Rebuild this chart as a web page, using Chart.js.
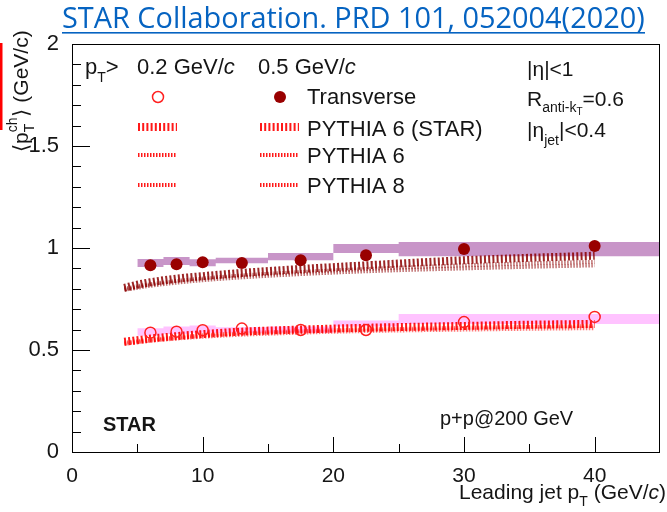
<!DOCTYPE html>
<html>
<head>
<meta charset="utf-8">
<script src="https://cdn.jsdelivr.net/npm/chart.js@4.4.1/dist/chart.umd.min.js"></script>
<style>
  html, body { margin: 0; padding: 0; background: #fff; }
  #wrap { width: 667px; height: 512px; }
</style>
</head>
<body>
<div id="wrap"><canvas id="chart" width="667" height="512"></canvas></div>
<script>
// Axis ticks
const xTickVals = [0, 10, 20, 30, 40];
const yTickVals = [0, 0.5, 1, 1.5, 2];

// Measured points (Transverse region)
const jetPt = [6, 8, 10, 13, 17.5, 22.5, 30, 40];
const trans05 = [0.915, 0.92, 0.93, 0.927, 0.94, 0.965, 0.995, 1.01];
const trans02 = [0.585, 0.59, 0.597, 0.605, 0.598, 0.598, 0.637, 0.662];

// Systematic boxes, one per bin (left edges + last right edge)
const binEdges = [5, 7, 9, 11, 15, 20, 25, 35, 45];
const sys05Low = [0.897, 0.907, 0.917, 0.91, 0.925, 0.94, 0.975, 0.96];
const sys05High = [0.936, 0.946, 0.956, 0.945, 0.952, 0.975, 1.02, 1.03];
const sys02Low = [0.565, 0.57, 0.578, 0.585, 0.585, 0.585, 0.615, 0.627];
const sys02High = [0.603, 0.607, 0.615, 0.62, 0.612, 0.615, 0.645, 0.676];

// PYTHIA curves
const pythiaPt = [4, 5, 6, 8, 10, 13, 17.5, 22.5, 30, 35, 40];
const p6star05 = [0.805, 0.82, 0.832, 0.85, 0.862, 0.878, 0.897, 0.915, 0.94, 0.952, 0.962];
const p6_05 = [0.8, 0.812, 0.822, 0.838, 0.85, 0.865, 0.882, 0.897, 0.915, 0.925, 0.932];
const p8_05 = [0.795, 0.805, 0.815, 0.83, 0.842, 0.856, 0.872, 0.886, 0.9, 0.908, 0.915];
const p6star02 = [0.54, 0.548, 0.556, 0.568, 0.578, 0.59, 0.6, 0.609, 0.618, 0.624, 0.628];
const p6_02 = [0.535, 0.543, 0.55, 0.562, 0.572, 0.582, 0.592, 0.6, 0.608, 0.613, 0.617];
const p8_02 = [0.53, 0.538, 0.545, 0.556, 0.565, 0.575, 0.585, 0.593, 0.6, 0.604, 0.607];

const DARK = 'rgba(140,0,0,0.85)';
const DARK_THIN = 'rgba(150,20,20,0.6)';
const RED = 'rgba(255,0,0,0.9)';
const RED_THIN = 'rgba(255,30,30,0.6)';
const PURPLE = 'rgba(190,130,190,0.85)';
const PINK = 'rgba(255,185,255,0.85)';
const INK = '#151515';

function pts(xs, ys) { return xs.map((x, i) => ({ x: x, y: ys[i] })); }
function steps(vals) {
  const p = vals.map((v, i) => ({ x: binEdges[i], y: v }));
  p.push({ x: binEdges[binEdges.length - 1], y: vals[vals.length - 1] });
  return p;
}

function curve(ys, color, width, dash) {
  return {
    data: pts(pythiaPt, ys), showLine: true, pointRadius: 0,
    borderColor: color, borderWidth: width, borderDash: dash,
    borderCapStyle: 'butt', cubicInterpolationMode: 'monotone',
    fill: false, order: 1
  };
}
function box(vals, color, isLow) {
  return {
    data: steps(vals), showLine: true, stepped: 'after', pointRadius: 0,
    borderWidth: 0, borderColor: 'rgba(0,0,0,0)', backgroundColor: color,
    fill: isLow ? '-1' : false, order: 2
  };
}

// rich text: parts = [[text, size, dy, style]]
function rich(ctx, x, y, parts) {
  parts.forEach(p => {
    ctx.font = (p[3] || '') + ' ' + p[1] + 'px "Liberation Sans", Arial, sans-serif';
    ctx.fillText(p[0], x, y + (p[2] || 0));
    x += ctx.measureText(p[0]).width;
  });
  return x;
}

function sample(ctx, x0, x1, y, color, width, dash) {
  ctx.save();
  ctx.strokeStyle = color; ctx.lineWidth = width; ctx.setLineDash(dash);
  ctx.beginPath(); ctx.moveTo(x0, y); ctx.lineTo(x1, y); ctx.stroke();
  ctx.restore();
}

const decor = {
  id: 'decor',
  afterDraw(chart) {
    const ctx = chart.ctx, a = chart.chartArea;
    const xs = chart.scales.x, ys = chart.scales.y;
    ctx.save();
    // frame
    ctx.strokeStyle = '#000'; ctx.lineWidth = 1;
    ctx.strokeRect(a.left + 0.5, a.top + 0.5, a.right - a.left - 1, a.bottom - a.top);
    // inward ticks
    ctx.beginPath();
    for (let k = 1; k < 20; k++) {
      const v = k / 10, py = Math.round(ys.getPixelForValue(v)) + 0.5;
      const len = (k % 5 === 0) ? 18 : 9;
      ctx.moveTo(a.left, py); ctx.lineTo(a.left + len, py);
    }
    for (let v = 5; v < 45; v += 5) {
      const px = Math.round(xs.getPixelForValue(v)) + 0.5;
      const len = (v % 10 === 0) ? 15 : 8;
      ctx.moveTo(px, a.bottom); ctx.lineTo(px, a.bottom - len);
    }
    ctx.stroke();

    // title
    ctx.fillStyle = '#0563c1';
    ctx.font = '27px "Open Sans", sans-serif';
    const title = 'STAR Collaboration. PRD 101, 052004(2020)';
    const w = ctx.measureText(title).width;
    const sz = 27 * 583 / w;
    ctx.font = sz.toFixed(2) + 'px "Open Sans", sans-serif';
    ctx.textBaseline = 'alphabetic';
    ctx.fillText(title, 62, 28);
    ctx.fillRect(62, 32, 583, 1.6);

    // red edge mark
    ctx.fillStyle = '#ff0000';
    ctx.fillRect(0, 43, 2.5, 87);

    ctx.fillStyle = INK;
    // y title
    ctx.save();
    ctx.translate(28, 152); ctx.rotate(-Math.PI / 2);
    let tx = rich(ctx, 0, 0, [['\u27e8p', 21]]);
    rich(ctx, tx, 0, [['T', 14, 6]]);
    tx = rich(ctx, tx, 0, [['ch', 14, -11]]);
    rich(ctx, tx + 1, 0, [['\u27e9 (GeV/c)', 21]]);
    ctx.restore();

    // x title
    ctx.textAlign = 'left';
    let xw = 0;
    ctx.font = '21px "Liberation Sans", Arial, sans-serif';
    xw += ctx.measureText('Leading jet p (GeV/)').width;
    ctx.font = '14px "Liberation Sans", Arial, sans-serif';
    xw += ctx.measureText('T').width;
    ctx.font = 'italic 21px "Liberation Sans", Arial, sans-serif';
    xw += ctx.measureText('c').width;
    rich(ctx, 666 - xw, 499, [['Leading jet p', 21], ['T', 14, 7], [' (GeV/', 21], ['c', 21, 0, 'italic'], [')', 21]]);

    // legend header
    tx = rich(ctx, 85, 74, [['p', 22]]);
    tx = rich(ctx, tx, 74, [['T', 14, 8]]);
    rich(ctx, tx, 74, [['>', 22]]);
    rich(ctx, 137, 74, [['0.2 GeV/', 22], ['c', 22, 0, 'italic']]);
    rich(ctx, 258, 74, [['0.5 GeV/', 22], ['c', 22, 0, 'italic']]);

    // legend rows
    ctx.beginPath(); ctx.arc(158, 97, 5.5, 0, 2 * Math.PI);
    ctx.strokeStyle = '#ff2020'; ctx.lineWidth = 1.5; ctx.stroke();
    ctx.beginPath(); ctx.arc(280, 97, 6, 0, 2 * Math.PI);
    ctx.fillStyle = '#990000'; ctx.fill();
    ctx.fillStyle = INK;
    rich(ctx, 307, 104, [['Transverse', 22]]);
    sample(ctx, 138, 177, 127, RED, 8, [2, 2.2]);
    sample(ctx, 260, 299, 127, RED, 8, [2, 2.2]);
    rich(ctx, 307, 136, [['PYTHIA 6 (STAR)', 22]]);
    sample(ctx, 138, 177, 155, RED, 4, [1.5, 1.5]);
    sample(ctx, 260, 299, 155, RED, 4, [1.5, 1.5]);
    rich(ctx, 307, 163, [['PYTHIA 6', 22]]);
    sample(ctx, 138, 177, 185, RED, 4, [1.5, 1.5]);
    sample(ctx, 260, 299, 185, RED, 4, [1.5, 1.5]);
    rich(ctx, 307, 193, [['PYTHIA 8', 22]]);

    // cuts
    rich(ctx, 527, 76, [['|\u03b7|<1', 21]]);
    tx = rich(ctx, 527, 106, [['R', 21]]);
    tx = rich(ctx, tx, 106, [['anti-k', 14, 6]]);
    tx = rich(ctx, tx, 106, [['T', 10, 9]]);
    rich(ctx, tx, 106, [['=0.6', 21]]);
    tx = rich(ctx, 527, 137, [['|\u03b7', 21]]);
    tx = rich(ctx, tx, 137, [['jet', 14, 8]]);
    rich(ctx, tx, 137, [['|<0.4', 21]]);

    // labels
    rich(ctx, 103, 431, [['STAR', 20, 0, 'bold']]);
    rich(ctx, 440, 425, [['p+p@200 GeV', 20]]);
    ctx.restore();
  }
};

new Chart(document.getElementById('chart'), {
  type: 'scatter',
  data: {
    datasets: [
      { data: pts(jetPt, trans05), pointRadius: 6, pointBackgroundColor: '#990000', pointBorderColor: '#990000', pointBorderWidth: 0, order: 0 },
      { data: pts(jetPt, trans02), pointRadius: 5.5, pointBackgroundColor: 'rgba(0,0,0,0)', pointBorderColor: '#ff2020', pointBorderWidth: 1.5, order: 0 },
      curve(p6star05, DARK, 8, [2, 2.2]),
      curve(p6_05, DARK_THIN, 4, [1.5, 1.5]),
      curve(p8_05, DARK_THIN, 4, [1.5, 1.5]),
      curve(p6star02, RED, 8, [2, 2.2]),
      curve(p6_02, RED_THIN, 4, [1.5, 1.5]),
      curve(p8_02, RED_THIN, 4, [1.5, 1.5]),
      box(sys05High, PURPLE, false),
      box(sys05Low, PURPLE, true),
      box(sys02High, PINK, false),
      box(sys02Low, PINK, true)
    ]
  },
  options: {
    responsive: false,
    animation: false,
    layout: { padding: { left: 0, top: 44, right: 0, bottom: 0 } },
    plugins: { legend: { display: false }, tooltip: { enabled: false } },
    scales: {
      x: {
        type: 'linear', min: 0, max: 45,
        afterBuildTicks: s => { s.ticks = xTickVals.map(v => ({ value: v })); },
        afterFit: s => { s.height = 60; s.paddingLeft = 0; s.paddingRight = 0; },
        grid: { display: false }, border: { display: false },
        ticks: { color: INK, padding: 4, maxRotation: 0, font: { family: '"Liberation Sans", Arial, sans-serif', size: 21 }, callback: v => String(v) }
      },
      y: {
        min: 0, max: 2,
        afterBuildTicks: s => { s.ticks = yTickVals.map(v => ({ value: v })); },
        afterFit: s => { s.width = 72; s.paddingTop = 0; s.paddingBottom = 0; },
        grid: { display: false }, border: { display: false },
        ticks: { color: INK, padding: 5, font: { family: '"Liberation Sans", Arial, sans-serif', size: 22 }, callback: v => String(v) }
      }
    }
  },
  plugins: [decor]
});
</script>
</body>
</html>
